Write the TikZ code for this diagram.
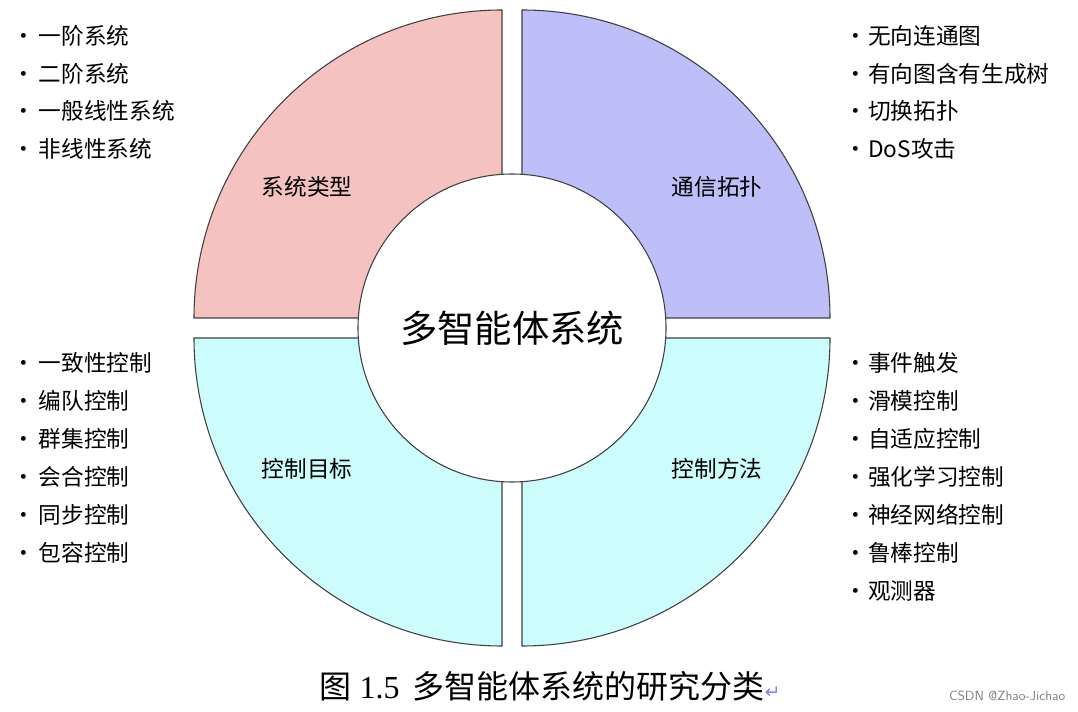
\documentclass[tikz,border=0pt]{standalone}
\usepackage{fontspec}
\setmainfont{Liberation Serif}
\newfontfamily\cjk{Noto Sans CJK SC}
\newfontfamily\dv{DejaVu Sans}
\begin{document}
\begin{tikzpicture}[x=0.75pt,y=-0.75pt,
  sect/.style={draw=black!75,line width=0.8pt},
  item/.style={anchor=west,font=\cjk\fontsize{17}{17}\selectfont,inner sep=0pt},
  slab/.style={font=\cjk\fontsize{17}{17}\selectfont}]
\useasboundingbox (0,0) rectangle (1078,712);
\fill[white] (0,0) rectangle (1078,712);
\definecolor{cpink}{HTML}{F4C2C0}
\definecolor{cblue}{HTML}{BEBEF8}
\definecolor{ccyan}{HTML}{CCFCFC}
\def\R{308}
\draw[sect,fill=cpink] (502,318) -- ++(-\R,0) arc[start angle=180,end angle=270,radius=\R] -- cycle;
\draw[sect,fill=cblue] (522,318) -- ++(0,-\R) arc[start angle=270,end angle=360,radius=\R] -- cycle;
\draw[sect,fill=ccyan] (502,338) -- ++(-\R,0) arc[start angle=180,end angle=90,radius=\R] -- cycle;
\draw[sect,fill=ccyan] (522,338) -- ++(\R,0) arc[start angle=0,end angle=90,radius=\R] -- cycle;
\node[circle,draw=black!75,line width=0.8pt,fill=white,minimum size=308*0.75pt,inner sep=0pt,
  font=\cjk\fontsize{28}{28}\selectfont] (c) at (512,328) {多智能体系统};
\node[slab] (s1) at (307,187) {系统类型};
\node[slab] (s2) at (717,187) {通信拓扑};
\node[slab] (s3) at (307,469) {控制目标};
\node[slab] (s4) at (717,469) {控制方法};
\foreach \t [count=\i] in {一阶系统,二阶系统,一般线性系统,非线性系统}
  \node[item] (a\i) at (12,{36+37.5*(\i-1)}) {·\hspace{3pt}\t};
\foreach \t [count=\i] in {无向连通图,有向图含有生成树,切换拓扑,{DoS攻击}}
  \node[item] (b\i) at (844,{36+37.5*(\i-1)}) {·\hspace{1pt}\t};
\foreach \t [count=\i] in {一致性控制,编队控制,群集控制,会合控制,同步控制,包容控制}
  \node[item] (d\i) at (12,{363+38*(\i-1)}) {·\hspace{3pt}\t};
\foreach \t [count=\i] in {事件触发,滑模控制,自适应控制,强化学习控制,神经网络控制,鲁棒控制,观测器}
  \node[item] (e\i) at (844,{363+38*(\i-1)}) {·\hspace{1pt}\t};
\node[font=\fontsize{24}{24}\selectfont] (cap) at (550,686) {{\cjk 图} 1.5\hspace{10pt}{\cjk 多智能体系统的研究分类}{\dv\fontsize{14}{14}\selectfont\color{blue!50}↵}};
\node[anchor=east,font=\fontsize{10}{10}\selectfont\sffamily,text=gray] (wm) at (1070,696) {CSDN @Zhao-Jichao};
\end{tikzpicture}
\end{document}
